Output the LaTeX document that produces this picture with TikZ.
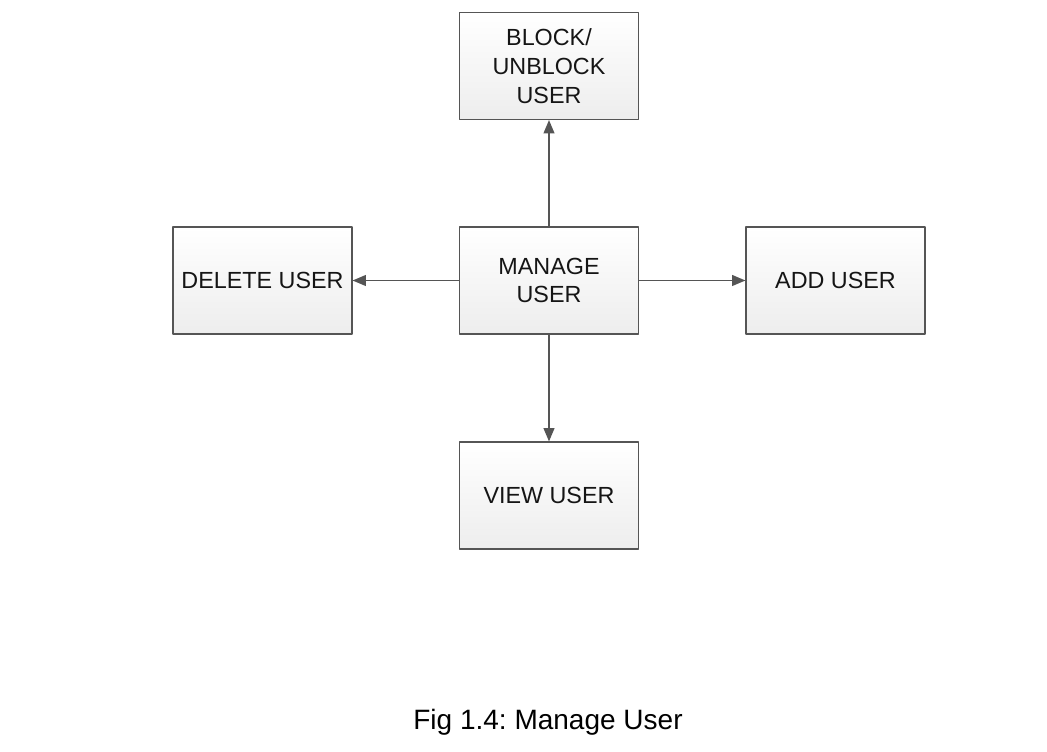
\documentclass[tikz,border=0pt]{standalone}
\usepackage{fontspec}
\setmainfont{Liberation Sans}
\frenchspacing
\usetikzlibrary{arrows}
\definecolor{boxline}{HTML}{555555}
\definecolor{boxtext}{HTML}{151515}
\begin{document}
\begin{tikzpicture}[line cap=round,line join=round,>=triangle 45,x=0.75pt,y=-0.75pt,
    userbox/.style={draw=boxline,line width=1.2pt,top color=white,bottom color=black!7,
      minimum width=134pt,minimum height=80pt,align=center,text=boxtext,
      font=\fontsize{17.5}{21.5}\selectfont},
    link/.style={->,draw=boxline,line width=1.3pt}]
			\useasboundingbox (0,0) rectangle (1047,752);
			\node [userbox] (manage) at (549,280.5) {MANAGE\\USER};
			\node [userbox] (block) at (549,66) {BLOCK/\\UNBLOCK\\USER};
			\node [userbox] (delete) at (262.5,280.5) {DELETE USER};
			\node [userbox] (add) at (835.5,280.5) {ADD USER};
			\node [userbox] (view) at (549,495.5) {VIEW USER};
			\draw [link] (manage) -- (block);
			\draw [link] (manage) -- (delete);
			\draw [link] (manage) -- (add);
			\draw [link] (manage) -- (view);
			\node [anchor=base,font=\fontsize{21}{25}\selectfont] (caption) at (548,729) {Fig 1.4: Manage User};
		\end{tikzpicture}
\end{document}
